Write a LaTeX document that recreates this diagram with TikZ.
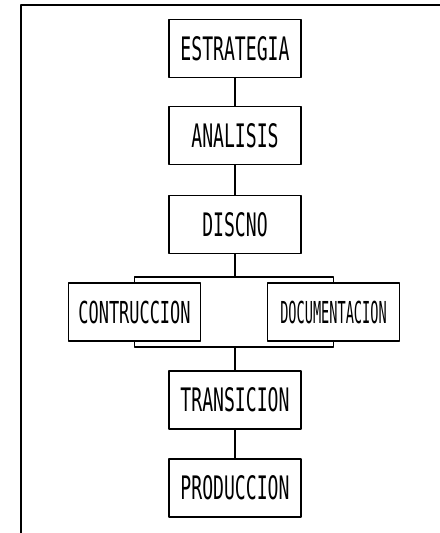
\documentclass[tikz,border=0pt]{standalone}
\usepackage{fontspec}
\newfontfamily\cajafont[FakeStretch=0.56]{DejaVu Sans Mono}
\newfontfamily\cajafontn[FakeStretch=0.45]{DejaVu Sans Mono}

\begin{document}
\begin{tikzpicture}[
    x=0.025cm, y=-0.025cm, line join=round, line cap=round,
    caja/.style={draw, line width=1.3pt, minimum width=3.3cm, minimum height=1.45cm,
      inner sep=0pt, font=\cajafont\fontsize{23}{23}\selectfont},
    cajal/.style={caja, font=\cajafont\fontsize{21.5}{21.5}\selectfont},
    cajan/.style={caja, font=\cajafontn\fontsize{21.5}{21.5}\selectfont},
    linea/.style={line width=1.3pt}]
  \useasboundingbox (0,0) rectangle (440,533);
  % Marco
  \draw[linea] (440,5) -- (21,5) -- (21,533);
  % Fases
  \node[caja] (est) at (235,48.5) {ESTRATEGIA};
  \node[caja] (ana) at (235,135.5) {ANALISIS};
  \node[caja] (dis) at (235,224.5) {DISCNO};
  \node[cajal] (con) at (134.5,312) {CONTRUCCION};
  \node[cajan] (doc) at (333.5,312) {DOCUMENTACION};
  \node[caja] (tra) at (235,400) {TRANSICION};
  \node[caja] (pro) at (235,488) {PRODUCCION};
  % Ramas
  \coordinate (div) at (235,277);
  \coordinate (uni) at (235,347);
  % Conexiones
  \draw[linea] (est) -- (ana);
  \draw[linea] (ana) -- (dis);
  \draw[linea] (dis) -- (div);
  \draw[linea] (div) -| (con);
  \draw[linea] (div) -| (doc);
  \draw[linea] (con) |- (uni);
  \draw[linea] (doc) |- (uni);
  \draw[linea] (uni) -- (tra);
  \draw[linea] (tra) -- (pro);
\end{tikzpicture}
\end{document}
